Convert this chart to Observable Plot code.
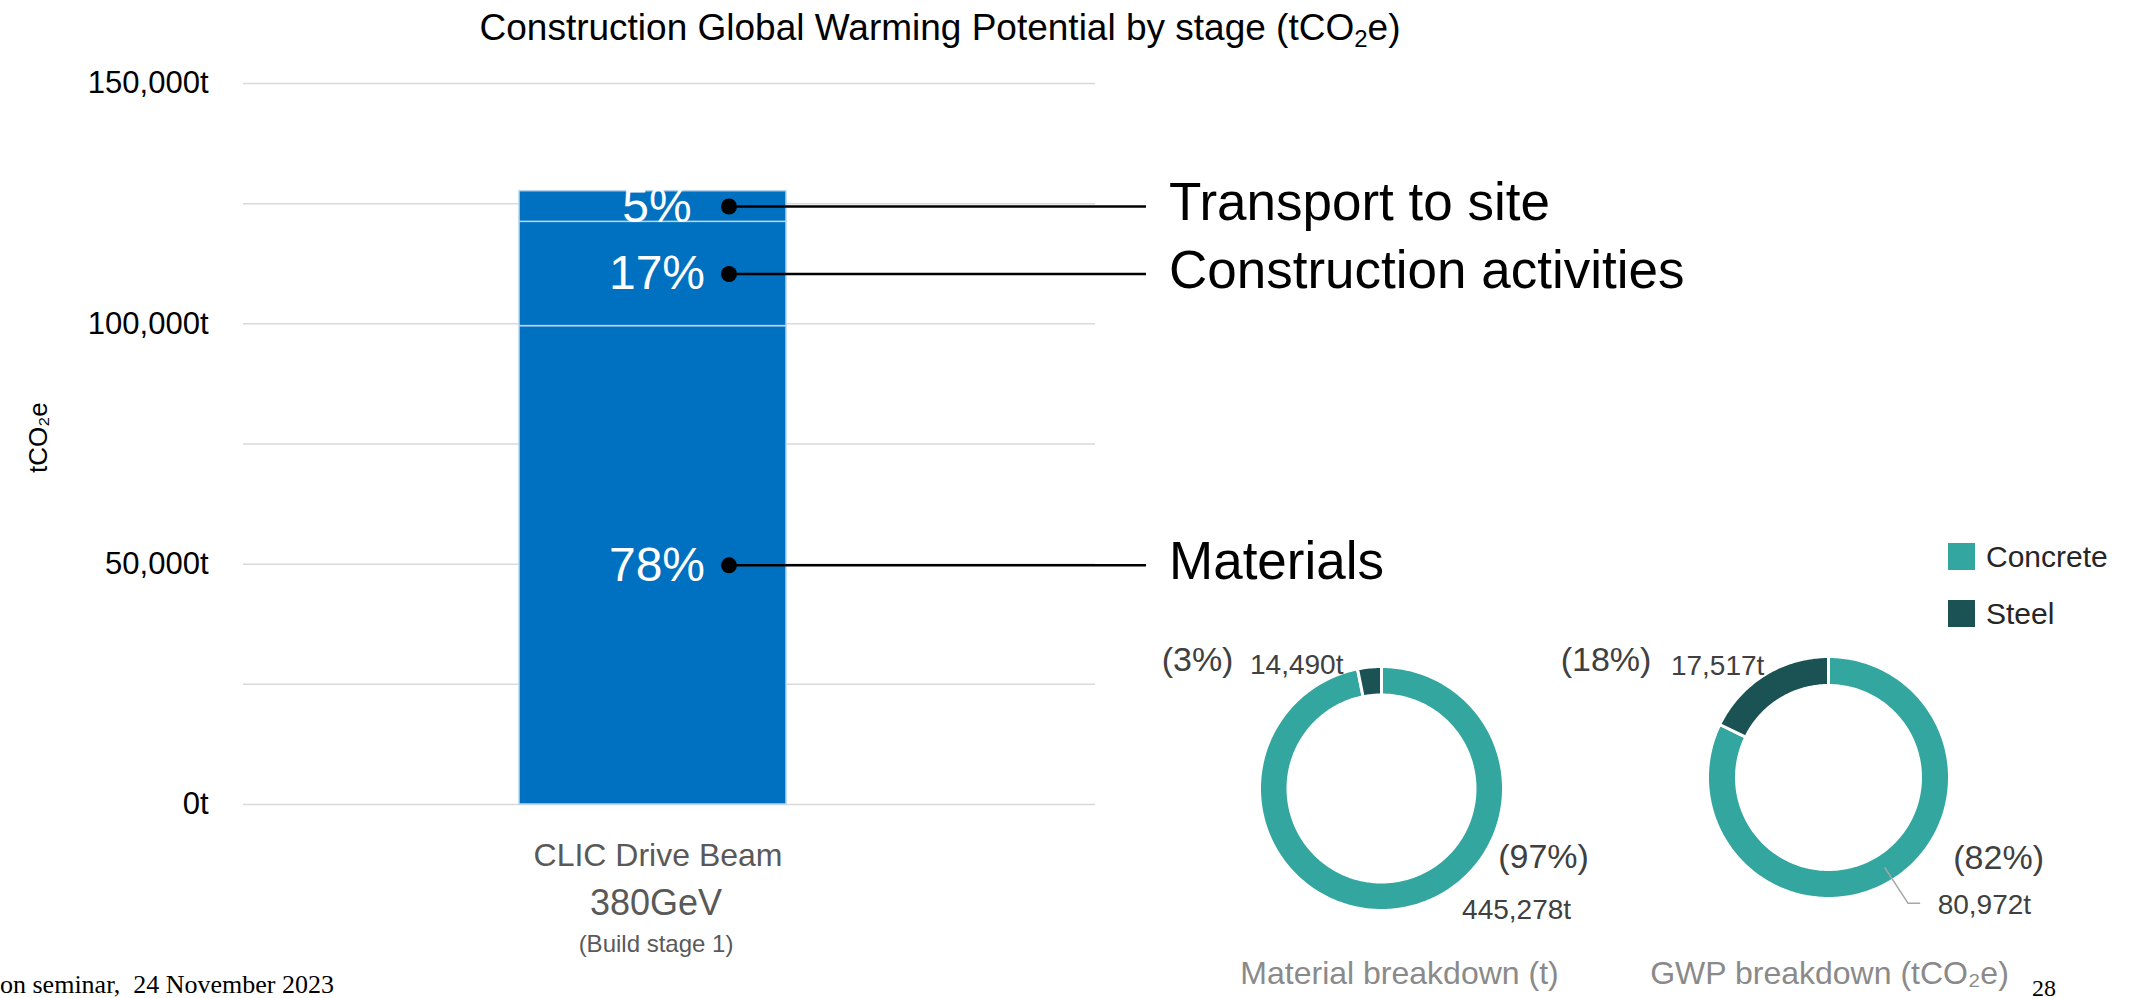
<!DOCTYPE html>
<html>
<head>
<meta charset="utf-8">
<script src="https://cdn.jsdelivr.net/npm/d3@7"></script>
<script src="https://cdn.jsdelivr.net/npm/@observablehq/plot@0.6"></script>
<style>
  html, body { margin: 0; padding: 0; background: #fff; }
  body { width: 2141px; height: 998px; position: relative; overflow: hidden;
         font-family: "Liberation Sans", Arial, sans-serif; }
  .abs { position: absolute; }
  #title { left: 0; top: 9px; width: 1880px; text-align: center; font-size: 37px;
           line-height: 37px; color: #000; white-space: nowrap; }
  #title sub { font-size: 24px; vertical-align: -7px; line-height: 0; }
  #footer { left: 0; top: 972px; font-family: "Liberation Serif", "Times New Roman", serif;
            font-size: 26px; line-height: 26px; color: #000; white-space: pre; }
  #page { left: 2032px; top: 976px; font-family: "Liberation Serif", "Times New Roman", serif;
          font-size: 24px; line-height: 24px; color: #000; }
  #key { left: 1948px; top: 543px; width: 190px; }
  .matkey-swatches { margin: 0 !important; color: #262626; }
  .matkey-swatch { padding-bottom: 30px !important; line-height: 27px; }
  .matkey-swatch > svg { margin-right: 11px !important; }
  .matkey-swatch-label { overflow: visible !important; text-overflow: clip !important; }
</style>
</head>
<body>
<div id="chart" class="abs" style="left:0;top:0"></div>
<div id="donut1" class="abs"></div>
<div id="donut2" class="abs"></div>
<div id="key" class="abs"></div>
<div id="title" class="abs">Construction Global Warming Potential by stage (tCO<sub>2</sub>e)</div>
<div id="footer" class="abs">on seminar,  24 November 2023</div>
<div id="page" class="abs">28</div>
<script>
// ---- Stacked bar: construction GWP by stage ----
const category = "CLIC Drive Beam";
const categoryLines = ["CLIC Drive Beam", "380GeV", "(Build stage 1)"];
const stages = ["Materials", "Construction activities", "Transport to site"];
const stageShares = [78, 17, 5];            // % of total GWP
const totalGWP = 127600;                    // tCO2e, height of the bar
const yGridTicks = [0, 25000, 50000, 75000, 100000, 125000, 150000];
const yLabelTicks = [0, 50000, 100000, 150000];

// ---- Donuts: material breakdown ----
const materials = ["Concrete", "Steel"];
const materialMass = [445278, 14490];       // t
const materialGWP = [80972, 17517];         // tCO2e
const donutTitles = ["Material breakdown (t)", "GWP breakdown (tCO₂e)"];
const materialColors = ["#33a6a0", "#1b5355"];

const FONT = "Liberation Sans, Arial, sans-serif";
const W = 2141, H = 998;

// stack the stages bottom-up
let acc = 0;
const segments = stages.map((stage, i) => {
  const value = totalGWP * stageShares[i] / 100;
  const row = {cat: category, stage, share: stageShares[i], lo: acc, hi: acc + value};
  row.mid = (row.lo + row.hi) / 2;
  acc += value;
  return row;
});

const frameLeft = 243, frameRight = 1095, frameTop = 83, frameBottom = 804;
const bandCenter = (frameLeft + frameRight) / 2;

const main = Plot.plot({
  width: W, height: H,
  marginLeft: frameLeft, marginRight: W - frameRight,
  marginTop: frameTop, marginBottom: H - frameBottom,
  style: {fontFamily: FONT, background: "transparent", overflow: "visible"},
  x: {domain: [category], padding: 0.4795, axis: null},
  y: {domain: [0, 150000], label: null},
  marks: [
    Plot.gridY(yGridTicks, {stroke: "#d9d9d9", strokeOpacity: 1, strokeWidth: 1.5}),
    Plot.axisY(yLabelTicks, {tickSize: 0, tickPadding: 35, label: null,
      tickFormat: d => d3.format(",")(d) + "t", fontSize: 31, fill: "#000"}),
    Plot.text(["tCO₂e"], {frameAnchor: "left", text: d => d, rotate: -90,
      dx: -205, dy: 29, fontSize: 26, fill: "#000"}),
    Plot.barY(segments, {x: "cat", y1: "lo", y2: "hi", fill: "#0070C0",
      stroke: "#b9d5ee", strokeWidth: 1.5, insetRight: 32}),
    Plot.text(segments, {x: "cat", y: "mid", text: d => d.share + "%",
      fill: "white", fontSize: 48, dx: -12}),
    // leader lines from each segment to its stage name
    Plot.tickY(segments, {x: "cat", y: "mid", stroke: "#000", strokeWidth: 2.5,
      insetLeft: 210, insetRight: -328}),
    Plot.dot(segments, {x: "cat", y: "mid", r: 8, fill: "#000", dx: 60}),
    Plot.text(segments, {x: "cat", y: "mid", text: "stage", textAnchor: "start",
      fontSize: 53, fill: "#000", dx: 1169 - bandCenter, dy: -3}),
    // category label under the bar
    Plot.text([category], {x: d => d, frameAnchor: "bottom", text: () => categoryLines[0],
      fontSize: 32, fill: "#595959", dx: -11, dy: 61}),
    Plot.text([category], {x: d => d, frameAnchor: "bottom", text: () => categoryLines[1],
      fontSize: 36, fill: "#595959", dx: -13, dy: 110}),
    Plot.text([category], {x: d => d, frameAnchor: "bottom", text: () => categoryLines[2],
      fontSize: 24, fill: "#595959", dx: -13, dy: 147})
  ]
});
document.getElementById("chart").append(main);

// ---- donut charts ----
function donut(values, {cx, cy, rOuter, rInner, title, titleDx, titleDy, labelNudges, leader}) {
  const top = cy - 150;
  const h = H - top;
  const w = 460;
  const sum = d3.sum(values);
  const arcs = d3.pie().sort(null)(values);

  // ring outline of each slice, in pixel units around the donut centre (y up)
  const ring = [];
  arcs.forEach((a, i) => {
    const n = Math.max(2, Math.ceil((a.endAngle - a.startAngle) * 180 / Math.PI));
    for (let k = 0; k <= n; k++) {
      const t = a.startAngle + (a.endAngle - a.startAngle) * k / n;
      ring.push({material: materials[i], x: rOuter * Math.sin(t), y: rOuter * Math.cos(t)});
    }
    for (let k = n; k >= 0; k--) {
      const t = a.startAngle + (a.endAngle - a.startAngle) * k / n;
      ring.push({material: materials[i], x: rInner * Math.sin(t), y: rInner * Math.cos(t)});
    }
  });

  const labels = arcs.map((a, i) => {
    const m = (a.startAngle + a.endAngle) / 2;
    return {
      material: materials[i],
      x: rOuter * Math.sin(m), y: rOuter * Math.cos(m),
      xm: (rOuter + rInner) / 2 * Math.sin(m), ym: (rOuter + rInner) / 2 * Math.cos(m),
      pct: `(${Math.round(a.value / sum * 100)}%)`,
      amount: d3.format(",")(a.value) + "t"
    };
  });

  const labelMarks = [];
  labels.forEach((d, i) => {
    const nd = labelNudges[i];
    labelMarks.push(Plot.text([d], {x: "x", y: "y", text: "pct", fontSize: 34, fill: "#404040",
      textAnchor: nd.pct[2], dx: nd.pct[0], dy: nd.pct[1]}));
    labelMarks.push(Plot.text([d], {x: "x", y: "y", text: "amount", fontSize: 28, fill: "#404040",
      textAnchor: nd.amount[2], dx: nd.amount[0], dy: nd.amount[1]}));
  });

  const leaderMarks = [];
  if (leader) {
    const d = labels[leader.slice];
    const path = [
      {x: d.xm, y: d.ym},
      {x: d.xm + leader.elbow[0], y: d.ym - leader.elbow[1]},
      {x: d.xm + leader.elbow[0] + leader.run, y: d.ym - leader.elbow[1]}
    ];
    leaderMarks.push(Plot.line(path, {x: "x", y: "y", stroke: "#a6a6a6", strokeWidth: 1.5}));
  }

  const chart = Plot.plot({
    width: w, height: h, margin: 0,
    style: {fontFamily: FONT, background: "transparent", overflow: "visible"},
    x: {domain: [-w / 2, w / 2], axis: null},
    y: {domain: [-(h - 150), 150], axis: null},
    color: {domain: materials, range: materialColors},
    marks: [
      Plot.line(ring, {x: "x", y: "y", z: "material", fill: "material", stroke: "white",
        strokeWidth: 3, curve: "linear-closed"}),
      ...leaderMarks,
      ...labelMarks,
      Plot.text([title], {x: () => 0, y: () => 0, text: d => d, fontSize: 32, fill: "#8a8a8a",
        dx: titleDx, dy: titleDy})
    ]
  });
  return {chart, left: cx - w / 2, top};
}

const d1 = donut(materialMass, {
  cx: 1380.5, cy: 788, rOuter: 122, rInner: 93.5,
  title: donutTitles[0], titleDx: 18, titleDy: 185,
  labelNudges: [
    {pct: [150, -53, "middle"], amount: [123, 0, "middle"]},
    {pct: [-136, -7, "end"], amount: [-26, -2, "end"]}
  ]
});
const d2 = donut(materialGWP, {
  cx: 1828, cy: 777, rOuter: 121, rInner: 92,
  title: donutTitles[1], titleDx: 1, titleDy: 196,
  labelNudges: [
    {pct: [106, -22, "middle"], amount: [45, 25, "start"]},
    {pct: [-113, -15, "end"], amount: [0, -9, "end"]}
  ],
  leader: {slice: 0, elbow: [23, 35.4], run: 11.6}
});
for (const [id, d] of [["donut1", d1], ["donut2", d2]]) {
  const el = document.getElementById(id);
  el.style.left = d.left + "px";
  el.style.top = d.top + "px";
  el.append(d.chart);
}

// legend for the two materials
document.getElementById("key").append(Plot.legend({
  color: {domain: materials, range: materialColors},
  columns: 1, swatchSize: 27, className: "matkey",
  style: {fontSize: "30px", fontFamily: FONT}
}));
</script>
</body>
</html>
